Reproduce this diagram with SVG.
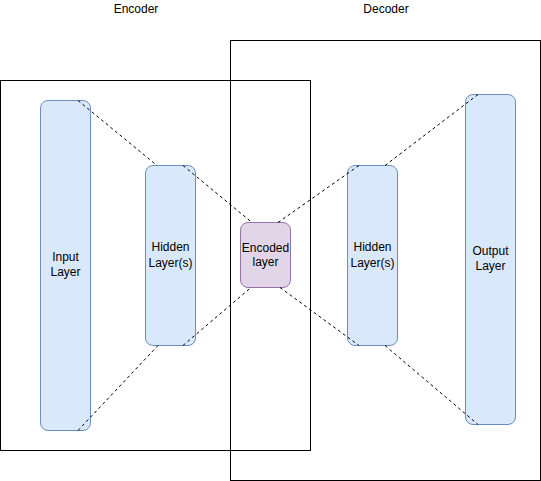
<svg xmlns="http://www.w3.org/2000/svg" width="541" height="481" viewBox="0 0 541 481">
<style>
.frame{fill:none;stroke:#000;stroke-width:1}
.blue{fill:#dae8fc;stroke:#6c8ebf;stroke-width:1}
.purple{fill:#e1d5e7;stroke:#9673a6;stroke-width:1}
.lbl{font-family:"Liberation Sans",Arial,sans-serif;font-size:12px;fill:#000;text-anchor:middle}
.dash{fill:none;stroke:#000;stroke-width:1;stroke-dasharray:3 3}
</style>
<rect width="541" height="481" fill="#fff"/>
<g id="encoder-frame"><rect class="frame" x="0.5" y="80.5" width="310" height="370"/><text class="lbl" x="136" y="13">Encoder</text></g>
<g id="decoder-frame"><rect class="frame" x="230.5" y="40.5" width="310" height="440"/><text class="lbl" x="386" y="13">Decoder</text></g>
<g id="input-layer"><rect class="blue" x="40.5" y="100.5" width="50" height="330" rx="7.5"/><text class="lbl" x="65.5" y="261">Input</text><text class="lbl" x="65.5" y="276">Layer</text></g>
<g id="hidden-enc"><rect class="blue" x="145.5" y="165.5" width="50" height="180" rx="7.5"/><text class="lbl" x="170.5" y="251">Hidden</text><text class="lbl" x="170.5" y="267">Layer(s)</text></g>
<g id="encoded-layer"><rect class="purple" x="240.5" y="222.5" width="50" height="65" rx="7.5"/><text class="lbl" x="265.5" y="252">Encoded</text><text class="lbl" x="265.5" y="266">layer</text></g>
<g id="hidden-dec"><rect class="blue" x="347.5" y="165.5" width="50" height="180" rx="7.5"/><text class="lbl" x="372.5" y="251">Hidden</text><text class="lbl" x="372.5" y="267">Layer(s)</text></g>
<g id="output-layer"><rect class="blue" x="465.5" y="94.5" width="50" height="330" rx="7.5"/><text class="lbl" x="490.5" y="255">Output</text><text class="lbl" x="490.5" y="270">Layer</text></g>
<g id="connectors">
<line class="dash" x1="78" y1="100.5" x2="157" y2="165.5"/>
<line class="dash" x1="183" y1="165.5" x2="252" y2="222.5"/>
<line class="dash" x1="278" y1="222.5" x2="359" y2="165.5"/>
<line class="dash" x1="385" y1="165.5" x2="478" y2="94.5"/>
<line class="dash" x1="78" y1="430.5" x2="158" y2="345.5"/>
<line class="dash" x1="183" y1="345.5" x2="251" y2="287.5"/>
<line class="dash" x1="280" y1="287.5" x2="359" y2="345.5"/>
<line class="dash" x1="385" y1="345.5" x2="478" y2="424.5"/>
</g>
</svg>
